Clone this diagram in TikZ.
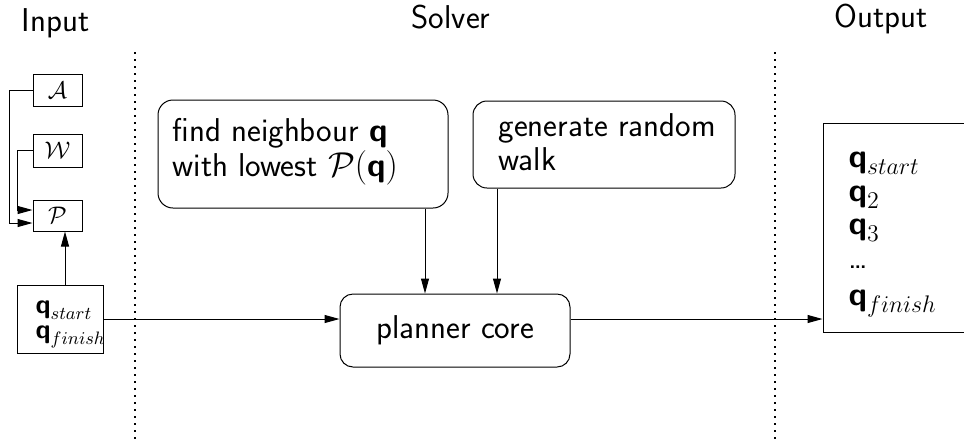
\documentclass[tikz,border=0pt]{standalone}
\usepackage{amsmath}
\usetikzlibrary{arrows.meta,calc}
\begin{document}
\begin{tikzpicture}[x=0.5pt,y=-0.5pt,
  line width=0.5pt,
  font=\sffamily\fontsize{16.5}{18}\selectfont,
  >={Triangle[length=7.5pt,width=4pt]},
  sqbox/.style={draw, inner sep=0pt},
  roundbox/.style={draw, rounded corners=7pt, inner sep=0pt},
  title/.style={anchor=base, inner sep=0pt},
  line/.style={anchor=base west, inner sep=0pt},
  sepline/.style={line width=0.75pt, dash pattern=on 0.75pt off 2.75pt},
  small/.style={font=\sffamily\fontsize{13.5}{14}\selectfont},
  tiny/.style={font=\sffamily\fontsize{12}{12.5}\selectfont}
]
\useasboundingbox (0,0) rectangle (964,441);

% column titles
\node[title] (tin)  at (55.5,31) {Input};
\node[title] (tsol) at (451,28)  {Solver};
\node[title] (tout) at (881,27)  {Output};

% dotted column separators
\coordinate (s1a) at (135,52);  \coordinate (s1b) at (135,441);
\coordinate (s2a) at (775,52);  \coordinate (s2b) at (775,441);
\draw[sepline] (s1a) -- (s1b);
\draw[sepline] (s2a) -- (s2b);

% input column
\node[sqbox, tiny, minimum width=24.5pt, minimum height=16pt]   (A) at (57.5,90)    {$\mathcal{A}$};
\node[sqbox, tiny, minimum width=24.5pt, minimum height=16.5pt] (W) at (57.5,150.5) {$\mathcal{W}$};
\node[sqbox, tiny, minimum width=24.5pt, minimum height=15.5pt] (P) at (57.5,215.5) {$\mathcal{P}$};
\node[sqbox, minimum width=43pt, minimum height=34pt] (qin) at (60,319) {};
\node[line, small] (qs) at (35,313) {$\textbf{q}_{start}$};
\node[line, small] (qf) at (35,338) {$\textbf{q}_{finish}$};

\draw[->] (A.west) -- ++(-23,0) |- ([yshift=-3.75pt]P.west);
\draw[->] (W.west) -- ++(-15,0) |- ([yshift=2.75pt]P.west);
\draw[->] ([xshift=2.5pt]qin.north) -- ([xshift=2.5pt]qin.north |- P.south);

% solver column
\node[roundbox, minimum width=145pt, minimum height=54pt, rounded corners=7.5pt] (find) at (303,154) {};
\node[line] (f1) at (172,141) {find neighbour \textbf{q}};
\node[line] (f2) at (172,176) {with lowest $\mathcal{P}(\textbf{q})$};

\node[roundbox, minimum width=131pt, minimum height=43.5pt] (gen) at (604,144.5) {};
\node[line] (g1) at (498,136) {generate random};
\node[line] (g2) at (498,170) {walk};

\node[roundbox, minimum width=115pt, minimum height=36.5pt, rounded corners=6.5pt] (core) at (455,330.5) {planner core};

\draw[->] ([xshift=61pt]find.south) -- ([xshift=61pt]find.south |- core.north);
\draw[->] ([xshift=-53.5pt]gen.south) -- ([xshift=-53.5pt]gen.south |- core.north);

% output column
\begin{scope}
  \clip (0,0) rectangle (964,441);
  \node[sqbox, minimum width=88.5pt, minimum height=104.5pt] (out) at (911.5,227.5) {};
\end{scope}
\node[line] (o1) at (848,167) {$\textbf{q}_{start}$};
\node[line] (o2) at (848,201) {$\textbf{q}_{2}$};
\node[line] (o3) at (848,234) {$\textbf{q}_{3}$};
\node[line] (o4) at (848,268) {\dots};
\node[line] (o5) at (848,305) {$\textbf{q}_{finish}$};

% main flow
\draw[->] (qin.east) -- (qin.east -| core.west);
\draw[->] (qin.east -| core.east) -- (qin.east -| out.west);
\end{tikzpicture}
\end{document}
